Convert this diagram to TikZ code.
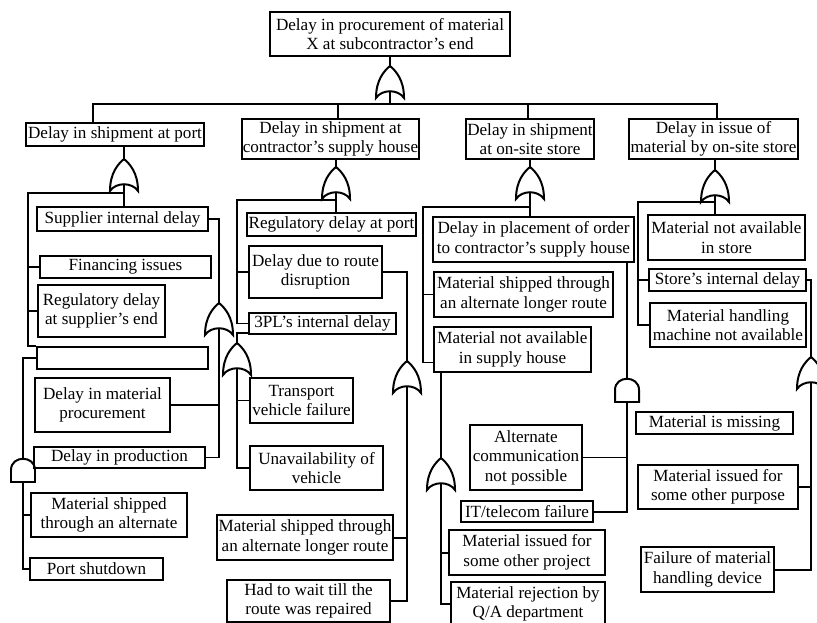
\documentclass[tikz,border=0pt]{standalone}
\usepackage{fontspec}
\setmainfont{Liberation Serif}
\usetikzlibrary{calc}

\tikzset{
  event/.style={draw, align=center, inner sep=0.5pt, font=\fontsize{14.6}{16.6}\selectfont},
  sz/.style n args={2}{minimum width=#1*0.03cm, minimum height=#2*0.03cm},
  orgate/.pic={
    \draw (0,0) .. controls (-6,5) and (-14,14) .. (-14,32)
      .. controls (-8,23) and (8,23) .. (14,32)
      .. controls (14,14) and (6,5) .. (0,0);
    \coordinate (-top) at (0,0);
    \coordinate (-bot) at (0,25);
  },
  andgate/.pic={
    \draw (-12,24) -- (-12,12) .. controls (-12,-3) and (12,-3) .. (12,12) -- (12,24) -- cycle;
    \coordinate (-top) at (0,0);
    \coordinate (-bot) at (0,24);
  }
}

\begin{document}
\begin{tikzpicture}[x=0.03cm, y=-0.03cm, line width=1.7pt]
    \useasboundingbox (0,0) rectangle (817,623);
    \clip (0,0) rectangle (817,623);

    % top event
    \node[event, sz={240}{44}] (top) at (390,34) {Delay in procurement of material\\X at subcontractor’s end};
    \pic (g0) at (390,66) {orgate};
    \node[event, sz={178}{23}] (port) at (115,134.5) {Delay in shipment at port};
    \node[event, sz={175}{40}] (house) at (330.5,139) {Delay in shipment at\\contractor’s supply house};
    \node[event, sz={128}{40}] (store) at (530,139) {Delay in shipment\\at on-site store};
    \node[event, sz={169}{40}] (issue) at (713.5,139) {Delay in issue of\\material by on-site store};

    \coordinate (j1) at (93,104);
    \coordinate (j2) at (338,104);
    \coordinate (j3) at (528,104);
    \coordinate (j4) at (717,104);
    \draw (top) -- (g0-top);
    \draw (g0-bot) -- (g0-bot |- j1);
    \draw (port.north -| j1) -- (j1) -- (j4) -- (issue.north -| j4);
    \draw (j2) -- (house.north -| j2);
    \draw (j3) -- (store.north -| j3);

    % shipment at port
    \pic (g1) at (124,159) {orgate};
    \node[event, sz={171}{24}] (supint) at (122.5,219) {Supplier internal delay};
    \node[event, sz={171}{22}] (finance) at (125.5,267) {Financing issues};
    \node[event, sz={127}{52}] (regsup) at (101.5,311) {Regulatory delay\\at supplier’s end};
    \node[event, sz={171}{22}] (blank) at (122.5,358) {};
    \node[event, sz={135}{54}] (matproc) at (102.5,405) {Delay in material\\procurement};
    \node[event, sz={171}{21}] (prod) at (119.5,457.5) {Delay in production};
    \node[event, sz={156}{44}] (altship) at (109,515) {Material shipped\\through an alternate};
    \node[event, sz={133}{22}] (portshut) at (96.5,569) {Port shutdown};
    \pic (gs) at (219,303) {orgate};
    \pic (ge) at (23,458) {andgate};

    \coordinate (k1) at (28,193);
    \draw (port.south -| g1-top) -- (g1-top);
    \draw (g1-bot) -- (g1-bot |- supint.north);
    \draw (g1-bot |- k1) -- (k1) |- (blank.north west);
    \draw (k1 |- finance.west) -- (finance.west);
    \draw (k1 |- regsup.west) -- (regsup.west);
    \draw (supint.east) -| (gs-top);
    \draw (gs-bot) |- (prod.east);
    \draw (matproc.east) -- (matproc.east -| gs-bot);
    \draw (blank.west) -| (ge-top);
    \draw (ge-bot) |- (portshut.west);
    \draw (altship.west -| ge-bot) -- (altship.west);

    % shipment at supply house
    \pic (g2) at (336,167) {orgate};
    \node[event, sz={169}{23}] (regport) at (331.5,224.5) {Regulatory delay at port};
    \node[event, sz={133}{52}] (route) at (315.5,272) {Delay due to route\\disruption};
    \node[event, sz={147}{21}] (tpl) at (322.5,323.5) {3PL’s internal delay};
    \node[event, sz={103}{45}] (vehfail) at (301.5,400.5) {Transport\\vehicle failure};
    \node[event, sz={133}{44}] (noveh) at (316.5,468) {Unavailability of\\vehicle};
    \node[event, sz={176}{45}] (longroute) at (305,537.5) {Material shipped through\\an alternate longer route};
    \node[event, sz={163}{42}] (repair) at (308.5,601) {Had to wait till the\\route was repaired};
    \pic (gt) at (237,343) {orgate};
    \pic (gr) at (407,361) {orgate};

    \coordinate (k2) at (237,200);
    \draw (house.south -| g2-top) -- (g2-top);
    \draw (g2-bot) -- (g2-bot |- regport.north);
    \draw (g2-bot |- k2) -- (k2) |- (tpl.west);
    \draw (k2 |- route.west) -- (route.west);
    \draw ($(tpl.south west)+(0,-2)$) -| (gt-top);
    \draw (gt-bot) |- (noveh.west);
    \draw (vehfail.west -| gt-bot) -- (vehfail.west);
    \draw (route.east) -| (gr-top);
    \draw (gr-bot) |- (repair.east);
    \draw (longroute.east) -- (longroute.east -| gr-bot);

    % shipment at on-site store
    \pic (g3) at (530,167) {orgate};
    \node[event, sz={201}{45}] (order) at (533.5,239.5) {Delay in placement of order\\to contractor’s supply house};
    \node[event, sz={179}{45}] (longroute2) at (523.5,294.5) {Material shipped through\\an alternate longer route};
    \node[event, sz={157}{45}] (nohouse) at (512.5,349.5) {Material not available\\in supply house};
    \node[event, sz={112}{65}] (altcomm) at (526,457.5) {Alternate\\communication\\not possible};
    \node[event, sz={132}{21}] (itfail) at (527,511.5) {IT/telecom failure};
    \node[event, sz={156}{45}] (otherproj) at (527,552.5) {Material issued for\\some other project};
    \node[event, sz={154}{44}] (qareject) at (528,604) {Material rejection by\\Q/A department};
    \pic (gn) at (441,458) {orgate};
    \pic (ga) at (627,378) {andgate};

    \coordinate (k3) at (423,207);
    \draw (store.south -| g3-top) -- (g3-top);
    \draw (g3-bot) -- (g3-bot |- order.north);
    \draw (g3-bot |- k3) -- (k3) |- ($(nohouse.west)+(0,13)$);
    \draw (k3 |- longroute2.west) -- (longroute2.west);
    \draw (nohouse.south -| gn-top) -- (gn-top);
    \draw (gn-bot) |- (qareject.west);
    \draw (otherproj.west -| gn-bot) -- (otherproj.west);
    \draw (order.south -| ga-top) -- (ga-top);
    \draw (ga-bot) |- (itfail.east);
    \draw (altcomm.east) -- (altcomm.east -| ga-bot);

    % issue by on-site store
    \pic (g4) at (715,170) {orgate};
    \node[event, sz={157}{45}] (nostore) at (726.5,237.5) {Material not available\\in store};
    \node[event, sz={157}{22}] (storeint) at (727.5,280) {Store’s internal delay};
    \node[event, sz={156}{44}] (nomachine) at (728,325) {Material handling\\machine not available};
    \node[event, sz={157}{22}] (missing) at (714.5,423) {Material is missing};
    \node[event, sz={160}{44}] (otherpurp) at (718,487) {Material issued for\\some other purpose};
    \node[event, sz={133}{45}] (devfail) at (707.5,569.5) {Failure of material\\handling device};
    \pic (gi) at (811,357) {orgate};

    \coordinate (k4) at (638,202);
    \draw (issue.south -| g4-top) -- (g4-top);
    \draw (g4-bot) -- (g4-bot |- nostore.north);
    \draw (g4-bot |- k4) -- (k4) |- (nomachine.west);
    \draw (k4 |- storeint.west) -- (storeint.west);
    \draw (storeint.east) -| (gi-top);
    \draw (gi-bot) |- (devfail.east);
    \draw (otherpurp.east) -- (otherpurp.east -| gi-bot);
\end{tikzpicture}
\end{document}
